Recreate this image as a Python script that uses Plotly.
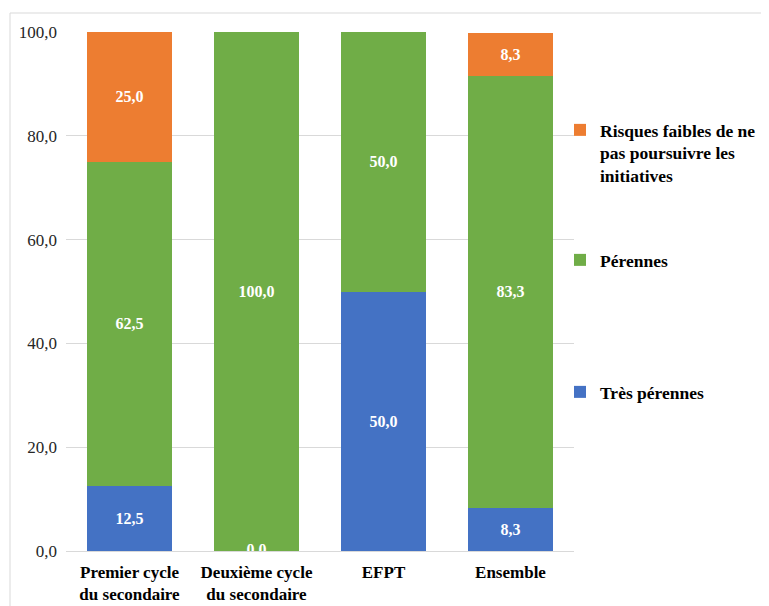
import plotly.graph_objects as go

categories = ["Premier cycle<br>du secondaire", "Deuxième cycle<br>du secondaire", "EFPT", "Ensemble"]
tres_perennes = [12.5, 0.0, 50.0, 8.3]
perennes = [62.5, 100.0, 50.0, 83.3]
risques = [25.0, 0.0, 0.0, 8.3]

blue = "#4472C4"
green = "#70AD47"
orange = "#ED7D31"
serif = "Liberation Serif, Times New Roman, serif"

# page body has an 8px margin, so the figure is drawn 8px smaller and offset
OFF = 8
W, H = 769 - OFF, 606 - OFF
L, R, T, B = 66 - OFF, 195, 32 - OFF, 55
pw, ph = W - L - R, H - T - B


def px_x(x):
    return (x - OFF - L) / pw


def px_y(y):
    return (H - B - (y - OFF)) / ph


def labels(vals):
    return ["" if v == 0 else f"{v:.1f}".replace(".", ",") for v in vals]


fig = go.Figure()
fig.add_trace(go.Bar(x=categories, y=tres_perennes, name="<b>Très pérennes</b>", marker_color=blue,
                     text=labels(tres_perennes), legend="legend3"))
fig.add_trace(go.Bar(x=categories, y=perennes, name="<b>Pérennes</b>", marker_color=green,
                     text=labels(perennes), legend="legend2"))
fig.add_trace(go.Bar(x=categories, y=risques,
                     name="<b>Risques faibles de ne<br>pas poursuivre les<br>initiatives</b>",
                     marker_color=orange, text=labels(risques), legend="legend"))

# the zero label shown at the bottom of the second bar
zero_x = [c for c, v in zip(categories, tres_perennes) if v == 0]
fig.add_trace(go.Scatter(x=zero_x, y=[0.0] * len(zero_x), mode="text", text=["<b>0,0</b>"] * len(zero_x),
                         textfont=dict(family=serif, size=16, color="white"),
                         textposition="middle center", cliponaxis=True, showlegend=False, hoverinfo="skip"))

fig.update_traces(selector=dict(type="bar"), textposition="inside", insidetextanchor="middle",
                  textangle=0, textfont=dict(family=serif, size=16, color="white", weight="bold"),
                  constraintext="none", marker_line_width=0)

legfont = dict(family=serif, size=17.5, color="black", weight="bold")
common = dict(x=px_x(560), xanchor="left", yanchor="top", font=legfont, bgcolor="rgba(0,0,0,0)",
              itemwidth=30, valign="top")

fig.update_layout(
    width=W, height=H,
    margin=dict(l=L, r=R, t=T, b=B, autoexpand=False),
    barmode="stack",
    bargap=0.33,
    separators=", ",
    plot_bgcolor="white",
    paper_bgcolor="white",
    font=dict(family=serif, color="black"),
    legend=dict(y=px_y(112), **common),
    legend2=dict(y=px_y(242), **common),
    legend3=dict(y=px_y(374), **common),
    xaxis=dict(tickfont=dict(family=serif, size=17, color="black", weight="bold"),
               showline=False, ticks="", showgrid=False, ticklabelstandoff=9),
    yaxis=dict(range=[0, 100], dtick=20, tickformat=".1f", showgrid=True, gridcolor="#D9D9D9",
               gridwidth=1, zeroline=True, zerolinecolor="#D9D9D9", zerolinewidth=1,
               tickfont=dict(family=serif, size=17, color="#262626"),
               ticklabelstandoff=8),
    shapes=[
        dict(type="line", xref="paper", yref="paper", x0=px_x(10), x1=px_x(769), y0=px_y(13), y1=px_y(13),
             line=dict(color="#D9D9D9", width=1)),
        dict(type="line", xref="paper", yref="paper", x0=px_x(10), x1=px_x(10), y0=px_y(13), y1=px_y(606),
             line=dict(color="#D9D9D9", width=1)),
    ],
)

fig.write_html("out.html")
